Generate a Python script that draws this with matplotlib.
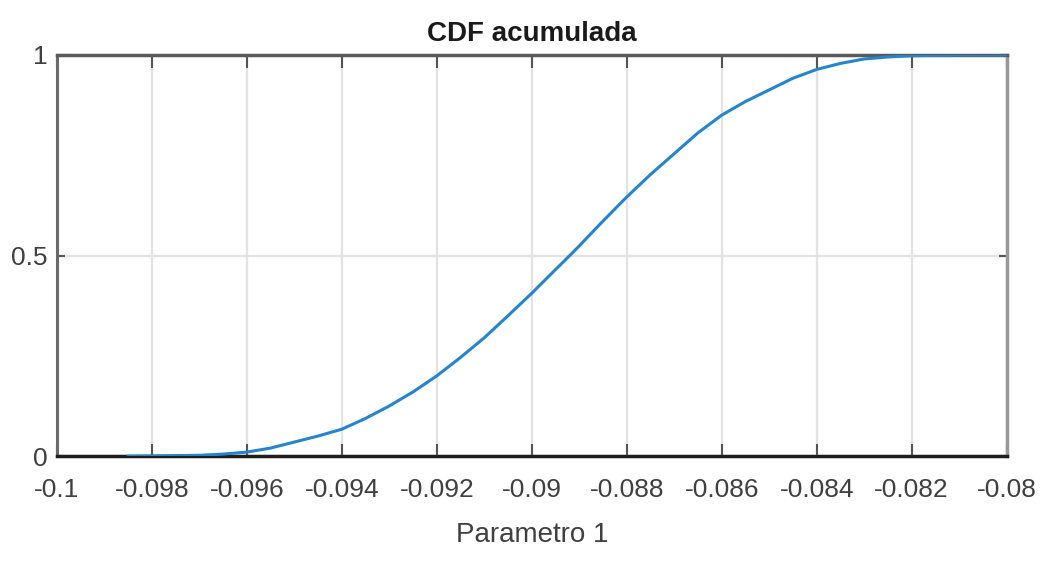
import matplotlib

matplotlib.use("Agg")
import matplotlib.pyplot as plt

# CDF estimada del parametro 1
param_x = [-0.0985, -0.098, -0.097, -0.0965, -0.096, -0.0955, -0.095, -0.0945,
           -0.094, -0.0935, -0.093, -0.0925, -0.092, -0.0915, -0.091, -0.0905,
           -0.090, -0.0895, -0.0892, -0.089, -0.0885, -0.088, -0.0875, -0.087,
           -0.0865, -0.086, -0.0855, -0.085, -0.0845, -0.084, -0.0835, -0.083,
           -0.0825, -0.082, -0.0815, -0.081, -0.080]
cdf_y = [0.0, 0.0005, 0.002, 0.005, 0.010, 0.020, 0.035, 0.050,
         0.067, 0.094, 0.125, 0.160, 0.200, 0.246, 0.295, 0.350,
         0.406, 0.465, 0.500, 0.524, 0.586, 0.646, 0.702, 0.754,
         0.806, 0.850, 0.884, 0.913, 0.942, 0.964, 0.979, 0.990,
         0.995, 0.998, 0.999, 1.0, 1.0]

x_ticks = [-0.1, -0.098, -0.096, -0.094, -0.092, -0.09, -0.088, -0.086,
           -0.084, -0.082, -0.08]
x_tick_labels = ["-0.1", "-0.098", "-0.096", "-0.094", "-0.092", "-0.09",
                 "-0.088", "-0.086", "-0.084", "-0.082", "-0.08"]
y_ticks = [0, 0.5, 1]
y_tick_labels = ["0", "0.5", "1"]

plt.rcParams["font.family"] = ["Liberation Sans", "DejaVu Sans"]

fig = plt.figure(figsize=(10.53, 5.61), dpi=100)
ax = fig.add_axes([0.054, 0.187, 0.902, 0.715])

ax.plot(param_x, cdf_y, color="#2584cc", lw=2.2, zorder=3)

ax.set_xlim(-0.1, -0.08)
ax.set_ylim(0, 1)
ax.set_xticks(x_ticks)
ax.set_xticklabels(x_tick_labels)
ax.set_yticks(y_ticks)
ax.set_yticklabels(y_tick_labels)

ax.grid(True, color="#e3e3e3", lw=1.6)
ax.set_axisbelow(True)

ax.tick_params(axis="both", direction="in", length=9, width=1.5, color="#555555",
               labelsize=19, labelcolor="#404040", top=True, right=True)
ax.tick_params(axis="x", pad=16)
ax.tick_params(axis="y", length=6, pad=7)

ax.spines["bottom"].set_color("#1e1e1e")
ax.spines["bottom"].set_linewidth(2.5)
ax.spines["top"].set_color("#5a5a5a")
ax.spines["top"].set_linewidth(2.5)
ax.spines["left"].set_color("#6a6a6a")
ax.spines["left"].set_linewidth(2.2)
ax.spines["right"].set_color("#999999")
ax.spines["right"].set_linewidth(2.5)

ax.set_title("CDF acumulada", fontsize=20, fontweight="bold", color="#1a1a1a", pad=10)
ax.set_xlabel("Parametro 1", fontsize=20, color="#404040", labelpad=14)

fig.savefig("out.png", dpi=100)
plt.close(fig)
